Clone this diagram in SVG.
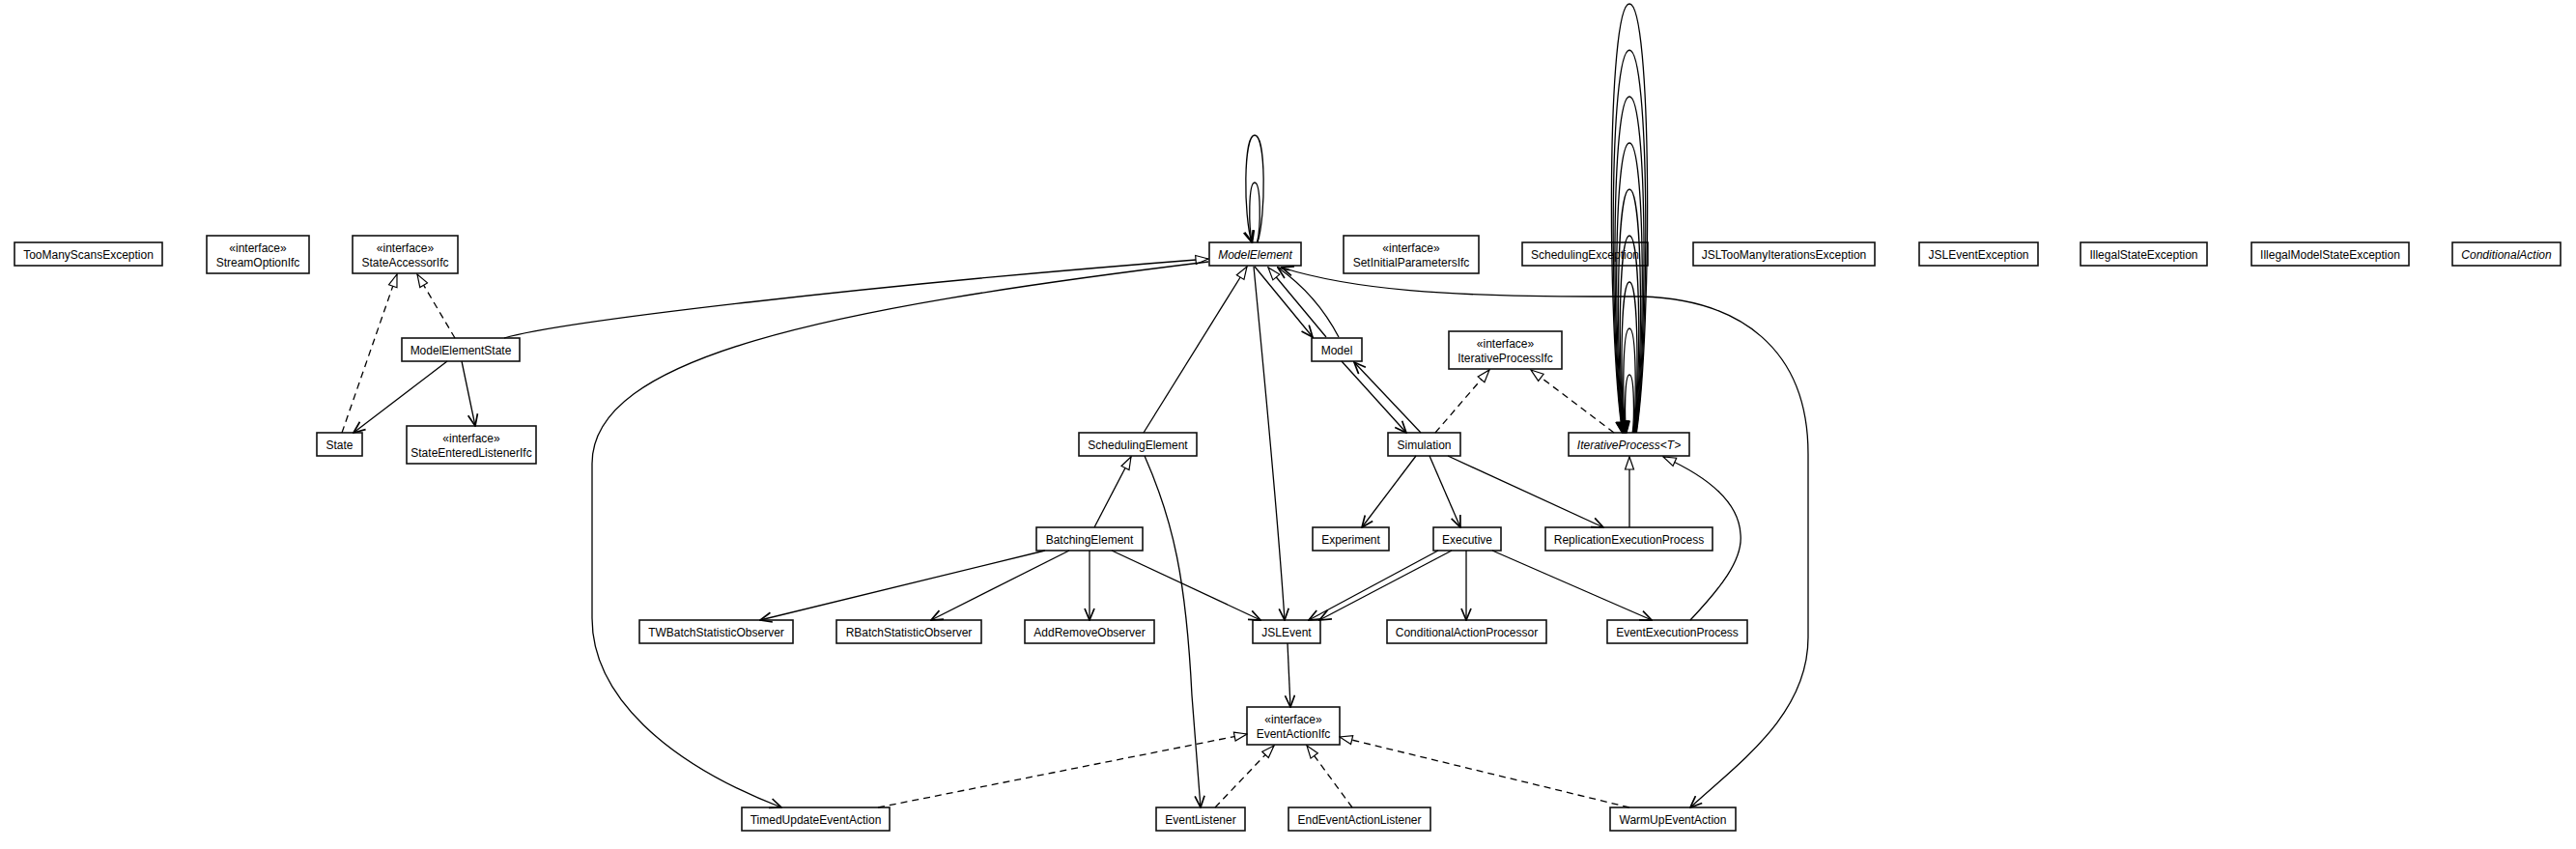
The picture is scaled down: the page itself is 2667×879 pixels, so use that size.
<svg xmlns="http://www.w3.org/2000/svg" width="2667" height="879" viewBox="0 0 2667 879">
<style>
.n rect{fill:#fff;stroke:#111;stroke-width:1.6}
text{font-family:"Liberation Sans",Arial,sans-serif;font-size:12px;text-anchor:middle;fill:#000}
.i{font-style:italic}
.e{fill:none;stroke:#000;stroke-width:1.3}
.d{stroke-dasharray:7,5}
.v{marker-end:url(#vee)}
.t{marker-end:url(#tri)}
.b{marker-start:url(#vee)}
</style>
<defs>
<marker id="vee" viewBox="-1 -1 14 12" refX="12" refY="5" markerWidth="14" markerHeight="12" markerUnits="userSpaceOnUse" orient="auto-start-reverse"><path d="M0,0 L12,5 L0,10" fill="none" stroke="#000" stroke-width="1.7" stroke-dasharray="none"/></marker>
<marker id="tri" viewBox="-1 -1 15 12" refX="13" refY="5" markerWidth="15" markerHeight="12" markerUnits="userSpaceOnUse" orient="auto"><path d="M0,0.5 L13,5 L0,9.5 Z" fill="#fff" stroke="#000" stroke-width="1.2" stroke-dasharray="none"/></marker>
</defs>
<rect width="2667" height="879" fill="#fff"/>
<g id="TooManyScansException" class="n"><rect x="15" y="251" width="153" height="24"/><text x="91.5" y="267.8">TooManyScansException</text></g>
<g id="StreamOptionIfc" class="n"><rect x="214" y="244" width="106" height="39"/><text x="267" y="260.5">«interface»</text><text x="267" y="276">StreamOptionIfc</text></g>
<g id="StateAccessorIfc" class="n"><rect x="365" y="244" width="109" height="39"/><text x="419.5" y="260.5">«interface»</text><text x="419.5" y="276">StateAccessorIfc</text></g>
<g id="ModelElement" class="n"><rect x="1252" y="251" width="95" height="24"/><text class="i" x="1299.5" y="267.8">ModelElement</text></g>
<g id="SetInitialParametersIfc" class="n"><rect x="1391" y="244" width="140" height="39"/><text x="1461" y="260.5">«interface»</text><text x="1461" y="276">SetInitialParametersIfc</text></g>
<g id="SchedulingException" class="n"><rect x="1576" y="251" width="130" height="24"/><text x="1641" y="267.8">SchedulingException</text></g>
<g id="JSLTooManyIterationsException" class="n"><rect x="1753" y="251" width="188" height="24"/><text x="1847" y="267.8">JSLTooManyIterationsException</text></g>
<g id="JSLEventException" class="n"><rect x="1987" y="251" width="123" height="24"/><text x="2048.5" y="267.8">JSLEventException</text></g>
<g id="IllegalStateException" class="n"><rect x="2154" y="251" width="131" height="24"/><text x="2219.5" y="267.8">IllegalStateException</text></g>
<g id="IllegalModelStateException" class="n"><rect x="2331" y="251" width="163" height="24"/><text x="2412.5" y="267.8">IllegalModelStateException</text></g>
<g id="ConditionalAction" class="n"><rect x="2539" y="251" width="112" height="24"/><text class="i" x="2595" y="267.8">ConditionalAction</text></g>
<g id="ModelElementState" class="n"><rect x="416" y="350" width="122" height="24"/><text x="477" y="366.8">ModelElementState</text></g>
<g id="Model" class="n"><rect x="1358" y="350" width="52" height="24"/><text x="1384" y="366.8">Model</text></g>
<g id="IterativeProcessIfc" class="n"><rect x="1500" y="343" width="117" height="39"/><text x="1558.5" y="359.5">«interface»</text><text x="1558.5" y="375">IterativeProcessIfc</text></g>
<g id="State" class="n"><rect x="328" y="448" width="47" height="24"/><text x="351.5" y="464.8">State</text></g>
<g id="StateEnteredListenerIfc" class="n"><rect x="421" y="441" width="134" height="39"/><text x="488" y="457.5">«interface»</text><text x="488" y="473">StateEnteredListenerIfc</text></g>
<g id="SchedulingElement" class="n"><rect x="1117" y="448" width="122" height="24"/><text x="1178" y="464.8">SchedulingElement</text></g>
<g id="Simulation" class="n"><rect x="1437" y="448" width="75" height="24"/><text x="1474.5" y="464.8">Simulation</text></g>
<g id="IterativeProcess" class="n"><rect x="1624" y="448" width="125" height="24"/><text class="i" x="1686.5" y="464.8">IterativeProcess&lt;T&gt;</text></g>
<g id="BatchingElement" class="n"><rect x="1073" y="546" width="110" height="24"/><text x="1128" y="562.8">BatchingElement</text></g>
<g id="Experiment" class="n"><rect x="1359" y="546" width="79" height="24"/><text x="1398.5" y="562.8">Experiment</text></g>
<g id="Executive" class="n"><rect x="1484" y="546" width="70" height="24"/><text x="1519" y="562.8">Executive</text></g>
<g id="ReplicationExecutionProcess" class="n"><rect x="1600" y="546" width="173" height="24"/><text x="1686.5" y="562.8">ReplicationExecutionProcess</text></g>
<g id="TWBatchStatisticObserver" class="n"><rect x="662" y="642" width="159" height="24"/><text x="741.5" y="658.8">TWBatchStatisticObserver</text></g>
<g id="RBatchStatisticObserver" class="n"><rect x="866" y="642" width="150" height="24"/><text x="941" y="658.8">RBatchStatisticObserver</text></g>
<g id="AddRemoveObserver" class="n"><rect x="1061" y="642" width="134" height="24"/><text x="1128" y="658.8">AddRemoveObserver</text></g>
<g id="JSLEvent" class="n"><rect x="1297" y="642" width="70" height="24"/><text x="1332" y="658.8">JSLEvent</text></g>
<g id="ConditionalActionProcessor" class="n"><rect x="1436" y="642" width="165" height="24"/><text x="1518.5" y="658.8">ConditionalActionProcessor</text></g>
<g id="EventExecutionProcess" class="n"><rect x="1664" y="642" width="145" height="24"/><text x="1736.5" y="658.8">EventExecutionProcess</text></g>
<g id="EventActionIfc" class="n"><rect x="1291" y="732" width="96" height="39"/><text x="1339" y="748.5">«interface»</text><text x="1339" y="764">EventActionIfc</text></g>
<g id="TimedUpdateEventAction" class="n"><rect x="768" y="836" width="153" height="24"/><text x="844.5" y="852.8">TimedUpdateEventAction</text></g>
<g id="EventListener" class="n"><rect x="1197" y="836" width="92" height="24"/><text x="1243" y="852.8">EventListener</text></g>
<g id="EndEventActionListener" class="n"><rect x="1334" y="836" width="147" height="24"/><text x="1407.5" y="852.8">EndEventActionListener</text></g>
<g id="WarmUpEventAction" class="n"><rect x="1667" y="836" width="130" height="24"/><text x="1732" y="852.8">WarmUpEventAction</text></g>
<g id="edges">
<path class="e d t" d="M471,350 L432,284"/>
<path class="e d t" d="M354,448 L411,284"/>
<path class="e v" d="M463,374 L366,448"/>
<path class="e v" d="M478,374 L492,441"/>
<path class="e t" d="M522,350 C580,333 900,295 1251,268"/>
<path class="e v" d="M1302,251 C1310.7,223 1310.7,140 1299,140 C1287.3,140 1287.3,223 1296,251"/>
<path class="e v" d="M1301.5,251 C1305.5,235.5 1305.5,189 1299,189 C1292.5,189 1292.5,235.5 1296.5,251"/>
<path class="e t" d="M1184,448 L1291,276"/>
<path class="e v" d="M1299,276 L1359,349"/>
<path class="e t" d="M1373,349 L1313,277"/>
<path class="e v" d="M1386,349 Q1363,305 1323,277"/>
<path class="e v" d="M1298,276 C1306,360 1322,520 1330,642"/>
<path class="e v" d="M1389,374 L1456,448"/>
<path class="e v" d="M1471,448 L1402,375"/>
<path class="e d t" d="M1486,448 L1542,383"/>
<path class="e d t" d="M1671,448 L1585,383"/>
<path class="e v" d="M1466,472 L1410,546"/>
<path class="e v" d="M1480,472 L1512,546"/>
<path class="e v" d="M1499,472 L1660,546"/>
<path class="e t" d="M1687,546 L1687,473"/>
<path class="e t" d="M1750,642 C1780,610 1805,580 1802,553 C1800,515 1760,490 1722,473"/>
<path class="e v" d="M1489,570 L1355,642"/>
<path class="e v" d="M1503,570 L1366,642"/>
<path class="e v" d="M1518,570 L1518,642"/>
<path class="e v" d="M1545,570 L1710,642"/>
<path class="e t" d="M1133,546 L1171,473"/>
<path class="e v" d="M1082,570 L787,642"/>
<path class="e v" d="M1107,570 L964,642"/>
<path class="e v" d="M1128,570 L1128,642"/>
<path class="e v" d="M1151,570 L1305,642"/>
<path class="e v" d="M1185,472 C1215,540 1228,600 1234,720 L1243,836"/>
<path class="e v" d="M1333,666 L1336,732"/>
<path class="e d t" d="M909,836 L1291,760"/>
<path class="e d t" d="M1258,836 L1319,772"/>
<path class="e d t" d="M1400,836 L1353,772"/>
<path class="e d t" d="M1687,836 L1387,763"/>
<path class="e v" d="M1251,271 C850,320 613,370 613,480 L613,640 C613,720 690,790 809,836"/>
<path class="e v b" d="M1327,277 C1400,300 1500,307 1650,307 L1700,307 C1800,310 1872,360 1872,470 L1872,660 C1872,740 1800,790 1750,836"/>
<path class="e v" d="M1694.4,448 C1710.4,337 1710.4,4 1687,4 C1663.6,4 1663.6,337 1679.6,448"/>
<path class="e v" d="M1693.9,448 C1708.1,349 1708.1,52 1687,52 C1665.9,52 1665.9,349 1680.1,448"/>
<path class="e v" d="M1693.35,448 C1705.85,361 1705.85,100 1687,100 C1668.15,100 1668.15,361 1680.65,448"/>
<path class="e v" d="M1692.8,448 C1703.6,373 1703.6,148 1687,148 C1670.4,148 1670.4,373 1681.2,448"/>
<path class="e v" d="M1692.3,448 C1701.3,385 1701.3,196 1687,196 C1672.7,196 1672.7,385 1681.7,448"/>
<path class="e v" d="M1691.8,448 C1699,397 1699,244 1687,244 C1675,244 1675,397 1682.2,448"/>
<path class="e v" d="M1691.25,448 C1696.75,409 1696.75,292 1687,292 C1677.25,292 1677.25,409 1682.75,448"/>
<path class="e v" d="M1690.7,448 C1694.5,421 1694.5,340 1687,340 C1679.5,340 1679.5,421 1683.3,448"/>
<path class="e v" d="M1690.2,448 C1692.2,433 1692.2,388 1687,388 C1681.8,388 1681.8,433 1683.8,448"/>
</g>
</svg>
